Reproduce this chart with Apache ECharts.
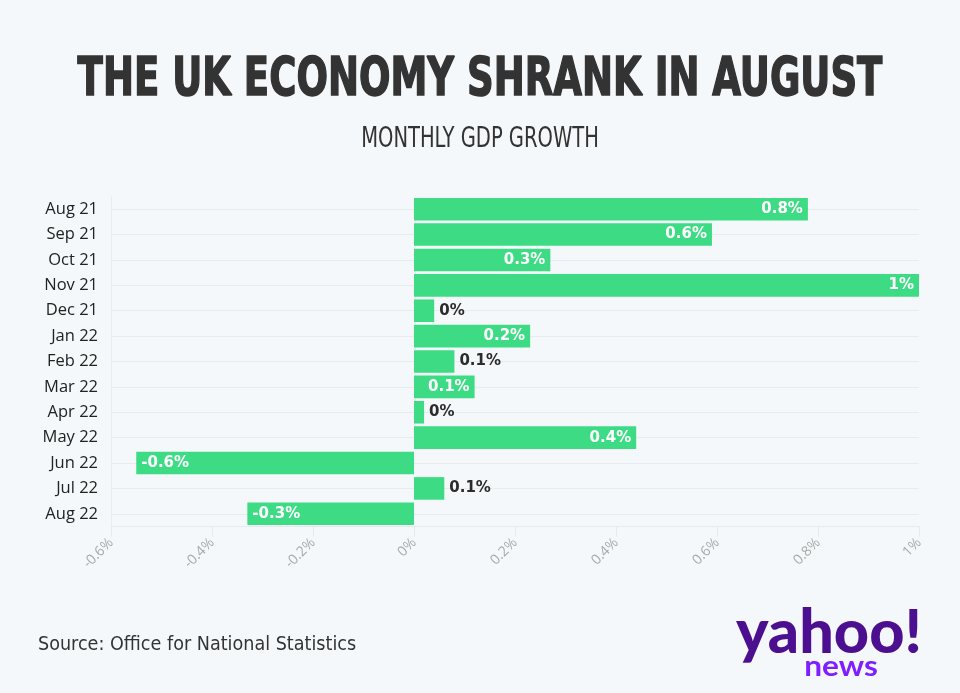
<!DOCTYPE html>
<html>
<head>
<meta charset="utf-8">
<script src="https://cdn.jsdelivr.net/npm/echarts@6/dist/echarts.min.js"></script>
<style>
html,body{margin:0;padding:0;background:#f5f8fa;}
#chart{width:960px;height:693px;}
</style>
</head>
<body>
<div id="chart"></div>
<script>
const categories = ['Aug 21','Sep 21','Oct 21','Nov 21','Dec 21','Jan 22','Feb 22','Mar 22','Apr 22','May 22','Jun 22','Jul 22','Aug 22'];
const growth = [0.78, 0.59, 0.27, 1.0, 0.04, 0.23, 0.08, 0.12, 0.02, 0.44, -0.55, 0.06, -0.33];
const labels = ['0.8%','0.6%','0.3%','1%','0%','0.2%','0.1%','0.1%','0%','0.4%','-0.6%','0.1%','-0.3%'];

const chart = echarts.init(document.getElementById('chart'), null, {renderer: 'canvas'});

const barData = growth.map((v, i) => {
  const inside = Math.abs(v) >= 0.1;
  return {
    value: v,
    label: {
      show: true,
      formatter: labels[i],
      position: inside ? (v >= 0 ? 'insideRight' : 'insideLeft') : 'right',
      color: inside ? '#ffffff' : '#2b2b2b',
      distance: 5
    }
  };
});

chart.setOption({
  backgroundColor: '#f5f8fa',
  animation: false,
  graphic: [
    {type: 'text', x: 480, y: 81, scaleX: 0.763,
     style: {text: 'THE UK ECONOMY SHRANK IN AUGUST', textAlign: 'center', textVerticalAlign: 'middle',
       font: 'bold 54px "DejaVu Sans Condensed"', fill: '#333333', stroke: '#333333', lineWidth: 1.5}},
    {type: 'text', x: 480, y: 140, scaleX: 0.775,
     style: {text: 'MONTHLY GDP GROWTH', textAlign: 'center', textVerticalAlign: 'middle',
       font: 'normal 28px "DejaVu Sans Condensed"', fill: '#333333'}},
    {type: 'text', x: 38, y: 645, scaleX: 1.03,
     style: {text: 'Source: Office for National Statistics', textAlign: 'left', textVerticalAlign: 'middle',
       font: 'normal 19px "DejaVu Sans Condensed"', fill: '#333333'}},
    {type: 'text', x: 829, y: 634, scaleX: 1.02,
     style: {text: 'yahoo!', textAlign: 'center', textVerticalAlign: 'middle',
       font: '900 60px Lato', fill: '#4b0f8f'}},
    {type: 'text', x: 841, y: 667, scaleX: 1.13,
     style: {text: 'news', textAlign: 'center', textVerticalAlign: 'middle',
       font: 'bold 28px Lato', fill: '#7e1fff'}}
  ],
  grid: {left: 111, right: 41, top: 196.5, bottom: 166.5, containLabel: false},
  xAxis: {
    type: 'value', min: -0.6, max: 1, interval: 0.2,
    axisLine: {show: true, onZero: false, lineStyle: {color: '#e6eaed'}},
    axisTick: {show: true, length: 10, lineStyle: {color: '#e6eaed'}},
    splitLine: {show: false},
    axisLabel: {
      rotate: 45, color: '#a8a8a8', fontSize: 14, fontFamily: 'Open Sans', margin: 14,
      formatter: v => (Math.round(v * 10) / 10) + '%'
    }
  },
  yAxis: {
    type: 'category', data: categories, inverse: true,
    axisLine: {show: true, lineStyle: {color: '#e9edf0'}, onZero: false},
    axisTick: {show: false},
    splitLine: {show: false},
    axisLabel: {color: '#222222', fontSize: 16.5, fontFamily: 'Open Sans', margin: 13}
  },
  series: [
    {
      type: 'line',
      data: [],
      z: 1,
      silent: true,
      markLine: {
        z: 1,
        silent: true, symbol: 'none', label: {show: false},
        lineStyle: {color: '#e8ecee', type: 'solid', width: 1},
        data: categories.map(c => ({yAxis: c}))
      }
    },
    {
      type: 'bar',
      data: barData,
      barCategoryGap: '11%',
      itemStyle: {color: '#3ddc84'},
      label: {fontFamily: 'DejaVu Sans', fontWeight: 'bold', fontSize: 15},
      z: 3
    }
  ]
});
</script>
</body>
</html>
